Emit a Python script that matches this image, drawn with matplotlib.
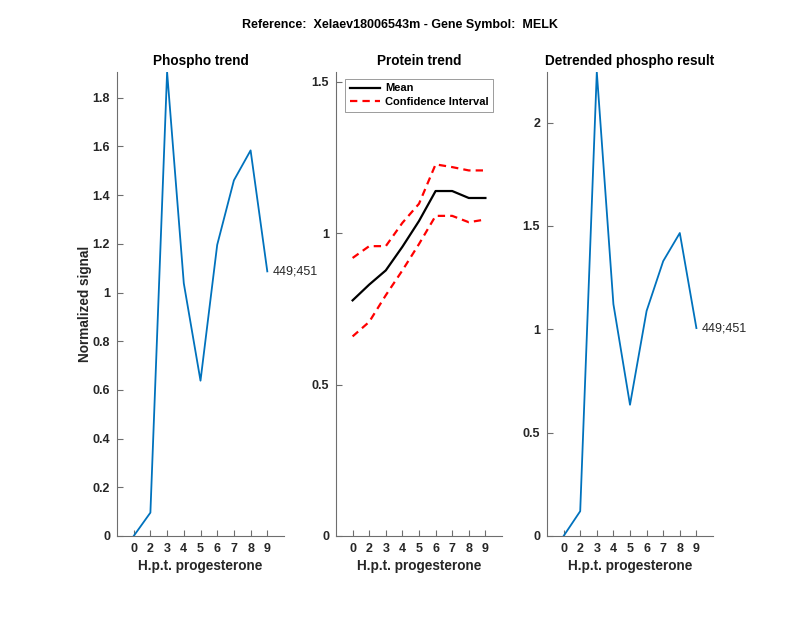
import matplotlib
matplotlib.use("Agg")
import matplotlib.pyplot as plt
import numpy as np

plt.rcParams['font.family'] = ['Liberation Sans', 'DejaVu Sans']

tick_labels = ['0', '2', '3', '4', '5', '6', '7', '8', '9']
phospho = [0.0, 0.096, 1.906, 1.038, 0.638, 1.196, 1.461, 1.584, 1.087]
protein_mean = [0.778, 0.830, 0.877, 0.955, 1.040, 1.139, 1.139, 1.116, 1.116]
protein_upper = [0.918, 0.957, 0.957, 1.034, 1.097, 1.227, 1.218, 1.207, 1.207]
protein_lower = [0.659, 0.707, 0.795, 0.877, 0.964, 1.057, 1.057, 1.036, 1.045]
detrended = [0.0, 0.120, 2.245, 1.122, 0.635, 1.089, 1.330, 1.466, 1.006]
site_label = '449;451'
title_text = 'Reference:  Xelaev18006543m - Gene Symbol:  MELK'

x = np.arange(1, len(tick_labels) + 1)
blue = '#0072BD'
axcol = '#262626'
spinecol = '#6e6e6e'

fig = plt.figure(figsize=(8, 6.18), dpi=100)
W, H = 800, 618
def ax_at(l, r, t=72, b=536):
    return fig.add_axes([l / W, (H - b) / H, (r - l) / W, (b - t) / H])

axes = [ax_at(117, 284), ax_at(336, 502), ax_at(547, 713)]

def style(ax, yticks, ylim, fmt):
    ax.set_xlim(0, 10)
    ax.set_ylim(*ylim)
    ax.set_xticks(x)
    ax.set_xticklabels(tick_labels)
    ax.set_yticks(yticks)
    ax.set_yticklabels([fmt(v) for v in yticks])
    for s in ['top', 'right']:
        ax.spines[s].set_visible(False)
    for s in ['left', 'bottom']:
        ax.spines[s].set_color(spinecol)
        ax.spines[s].set_linewidth(0.8)
    ax.tick_params(direction='in', length=4, width=0.8, color=spinecol,
                   labelcolor=axcol, labelsize=9, pad=5)
    for lab in ax.get_xticklabels() + ax.get_yticklabels():
        lab.set_fontweight('bold')
    ax.set_xlabel('H.p.t. progesterone', fontsize=9.8, fontweight='bold', color=axcol, labelpad=3)

def f(v):
    return '%g' % round(v, 2)

ax1, ax2, ax3 = axes
ax1.plot(x, phospho, color=blue, lw=1.3)
ax1.text(x[-1] + 0.3, phospho[-1], site_label, fontsize=9, va='center', ha='left', color='#262626')
style(ax1, np.round(np.arange(0, 1.81, 0.2), 1), (0, max(phospho)), f)
ax1.set_title('Phospho trend', fontsize=9.8, fontweight='bold', pad=5)
ax1.set_ylabel('Normalized signal', fontsize=9.8, fontweight='bold', color=axcol, labelpad=0)

ax2.plot(x, protein_mean, color='black', lw=1.6, label='Mean')
ax2.plot(x, protein_upper, color='red', lw=1.6, ls=(0, (3.3, 2.3)), label='Confidence Interval')
ax2.plot(x, protein_lower, color='red', lw=1.6, ls=(0, (3.3, 2.3)))
style(ax2, [0, 0.5, 1, 1.5], (0, 1.532), f)
ax2.set_title('Protein trend', fontsize=9.8, fontweight='bold', pad=5)
leg = ax2.legend(loc='upper left', bbox_to_anchor=(0.055, 0.985), fontsize=8, frameon=True,
                 fancybox=False, edgecolor=spinecol, handlelength=2.7, borderpad=0.4,
                 labelspacing=0.35, handletextpad=0.5, borderaxespad=0)
leg.get_frame().set_linewidth(0.6)
for t in leg.get_texts():
    t.set_fontweight('bold')

ax3.plot(x, detrended, color=blue, lw=1.3)
ax3.text(x[-1] + 0.3, detrended[-1], site_label, fontsize=9, va='center', ha='left', color='#262626')
style(ax3, [0, 0.5, 1, 1.5, 2], (0, max(detrended)), f)
ax3.set_title('Detrended phospho result', fontsize=9.8, fontweight='bold', pad=5)

fig.text(0.5, 1 - 25 / H, title_text, ha='center', va='center', fontsize=9, fontweight='bold')

fig.savefig('out.png', dpi=100, facecolor='white')
